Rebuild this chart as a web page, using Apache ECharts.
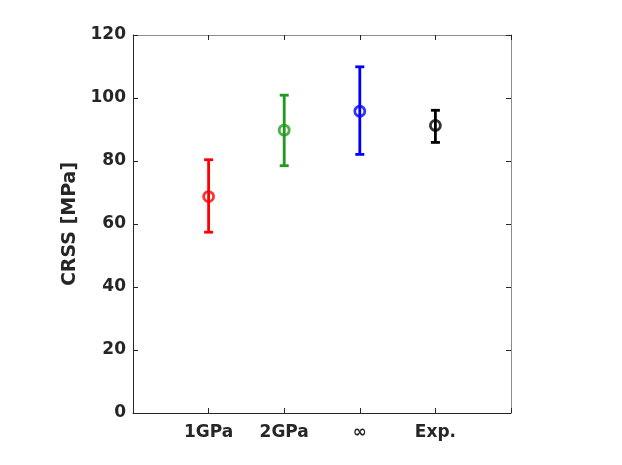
<!DOCTYPE html>
<html>
<head>
<meta charset="utf-8">
<script src="https://cdn.jsdelivr.net/npm/echarts@6/dist/echarts.min.js"></script>
<style>
  html, body { margin: 0; padding: 0; background: #fff; }
  #chart { width: 622px; height: 465px; }
</style>
</head>
<body>
<div id="chart"></div>
<script>
// data
const categories = ['1GPa', '2GPa', '\u221e', 'Exp.']
const positions = [1, 2, 3, 4]
const means = [68.7, 89.8, 95.8, 91.3]
const lower = [57.4, 78.5, 82.1, 85.9]
const upper = [80.4, 100.9, 109.9, 96.1]
const colors = ['#ff0000', '#1f9a1f', '#0000ff', '#000000']
const yTicks = [0, 20, 40, 60, 80, 100, 120]

const font = 'DejaVu Sans'

const chart = echarts.init(document.getElementById('chart'))

const errData = positions.map((x, i) => ({
  value: [x, lower[i], upper[i]],
  itemStyle: { color: colors[i] }
}))

const pointData = positions.map((x, i) => ({
  value: [x, means[i]],
  itemStyle: { color: 'transparent', borderColor: colors[i], borderWidth: 2.8 }
}))

const renderBar = (params, api) => {
  const x = api.value(0)
  const lo = api.coord([x, api.value(1)])
  const hi = api.coord([x, api.value(2)])
  const half = 4.5
  const style = { stroke: api.visual('color'), lineWidth: 2.8, fill: null }
  return {
    type: 'group',
    children: [
      { type: 'line', shape: { x1: lo[0], y1: lo[1], x2: hi[0], y2: hi[1] }, style },
      { type: 'line', shape: { x1: lo[0] - half, y1: lo[1], x2: lo[0] + half, y2: lo[1] }, style },
      { type: 'line', shape: { x1: hi[0] - half, y1: hi[1], x2: hi[0] + half, y2: hi[1] }, style }
    ]
  }
}

const xLabel = (v) => {
  const i = positions.indexOf(v)
  return i >= 0 ? categories[i] : ''
}

const option = {
  backgroundColor: '#fff',
  animation: false,
  grid: { left: 133, top: 35, right: 111, bottom: 52 },
  xAxis: [
    {
      type: 'value', min: 0, max: 5, interval: 1,
      axisLine: { onZero: false, lineStyle: { color: '#262626', width: 1 } },
      axisTick: { inside: true, length: 5, lineStyle: { color: '#262626' } },
      axisLabel: {
        formatter: xLabel, margin: 11,
        color: '#262626', fontFamily: font, fontWeight: 'bold', fontSize: 17
      },
      splitLine: { show: false }
    },
    {
      type: 'value', position: 'top', min: 0, max: 5, interval: 1,
      axisLine: { show: true, onZero: false, lineStyle: { color: '#8c8c8c', width: 1 } },
      axisTick: { inside: true, length: 5, lineStyle: { color: '#262626' } },
      axisLabel: { show: false },
      splitLine: { show: false }
    }
  ],
  yAxis: [
    {
      type: 'value', min: 0, max: 120, interval: 20,
      name: 'CRSS [MPa]', nameLocation: 'middle', nameGap: 44,
      nameTextStyle: { color: '#262626', fontFamily: font, fontWeight: 'bold', fontSize: 19 },
      axisLine: { show: true, onZero: false, lineStyle: { color: '#262626', width: 1 } },
      axisTick: { show: true, inside: true, length: 5, lineStyle: { color: '#262626' } },
      axisLabel: {
        margin: 7, color: '#262626', fontFamily: font, fontWeight: 'bold', fontSize: 17,
        formatter: (v) => (yTicks.includes(v) ? String(v) : '')
      },
      splitLine: { show: false }
    },
    {
      type: 'value', position: 'right', min: 0, max: 120, interval: 20,
      axisLine: { show: true, onZero: false, lineStyle: { color: '#8c8c8c', width: 1 } },
      axisTick: { show: true, inside: true, length: 5, lineStyle: { color: '#262626' } },
      axisLabel: { show: false },
      splitLine: { show: false }
    }
  ],
  series: [
    {
      type: 'custom',
      renderItem: renderBar,
      encode: { x: 0, y: [1, 2] },
      data: errData,
      z: 2
    },
    {
      type: 'scatter',
      symbol: 'circle',
      symbolSize: 10,
      data: pointData,
      z: 3
    }
  ]
}

chart.setOption(option)
</script>
</body>
</html>
